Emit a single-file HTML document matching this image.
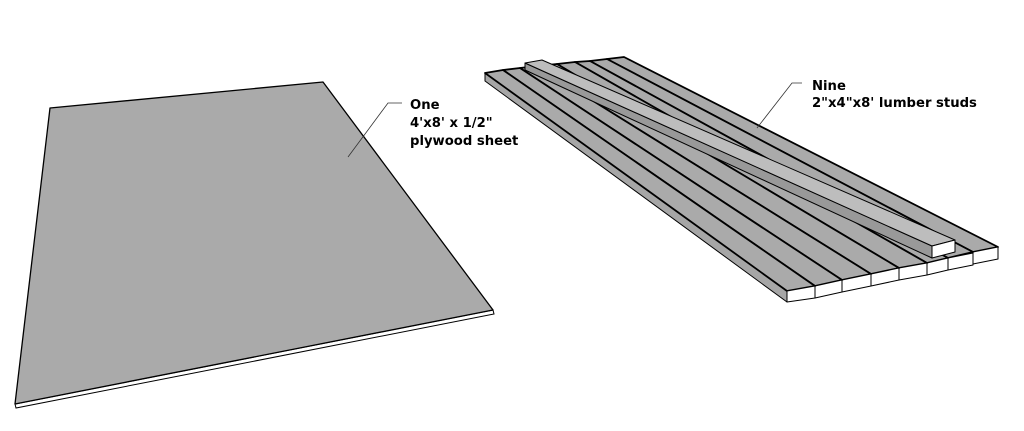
<!DOCTYPE html>
<html><head><meta charset="utf-8"><style>
html,body{margin:0;padding:0;background:#fff;}
svg{display:block}
text{font-family:"DejaVu Sans","Liberation Sans",sans-serif;font-weight:bold;font-size:13.2px;fill:#000}
</style></head><body>
<svg width="1024" height="431" viewBox="0 0 1024 431" xmlns="http://www.w3.org/2000/svg">
<!-- plywood -->
<polygon points="15,404 493,310 494,314 16,408" fill="#fff" stroke="#000" stroke-width="1"/>
<polygon points="50,108 323,82 493,310 15,404" fill="#aaa" stroke="#000" stroke-width="1.3" stroke-linejoin="round"/>
<polyline points="348,157 388,103 402,103" fill="none" stroke="#333" stroke-width="0.8"/>
<text x="410" y="109">One</text>
<text x="410" y="127">4'x8' x 1/2"</text>
<text x="410" y="145">plywood sheet</text>

<!-- studs -->
<g stroke="#000" stroke-width="1.8" stroke-linejoin="round">
<polygon points="607,59 624,57 998,247 973,252" fill="#aaa"/>
<polygon points="973,252 998,247 998,259 973,264" fill="#fff" stroke-width="1"/>
<polygon points="590,61 607,59 973,252 948,258" fill="#aaa"/>
<polygon points="948,258 973,253 973,265 948,270" fill="#fff" stroke-width="1"/>
<polygon points="575,62 590,61 948,258 927,263" fill="#aaa"/>
<polygon points="927,263 948,258 948,270 927,275" fill="#fff" stroke-width="1"/>
<polygon points="557,64 575,62 927,263 899,268" fill="#aaa"/>
<polygon points="899,268 927,263 927,275 899,280" fill="#fff" stroke-width="1"/>
<polygon points="537,66 557,64 899,268 871,274" fill="#aaa"/>
<polygon points="871,274 899,268 899,280 871,286" fill="#fff" stroke-width="1"/>
<polygon points="520,68 537,66 871,274 842,280" fill="#aaa"/>
<polygon points="842,280 871,274 871,286 842,292" fill="#fff" stroke-width="1"/>
<polygon points="503,70 520,68 842,280 815,286" fill="#aaa"/>
<polygon points="815,286 842,280 842,292 815,298" fill="#fff" stroke-width="1"/>
<polygon points="485,73 485,81 787,302 787,291" fill="#a6a6a6" stroke-width="1"/>
<polygon points="485,73 503,70 815,286 787,291" fill="#aaa"/>
<polygon points="787,291 815,286 815,298 787,302" fill="#fff" stroke-width="1"/>
<!-- diagonal top stud -->
<polygon points="525,63 525,70 932,258 932,246" fill="#999" stroke-width="1"/>
<polygon points="525,63 542,60 955,240 932,246" fill="#bdbdbd" stroke-width="1"/>
<polygon points="932,246 955,240 955,252 932,258" fill="#fff" stroke-width="1"/>
</g>
<polyline points="757,128 792,83 802,83" fill="none" stroke="#333" stroke-width="0.8"/>
<text x="812" y="90">Nine</text>
<text x="812" y="107">2"x4"x8' lumber studs</text>
</svg>
</body></html>
